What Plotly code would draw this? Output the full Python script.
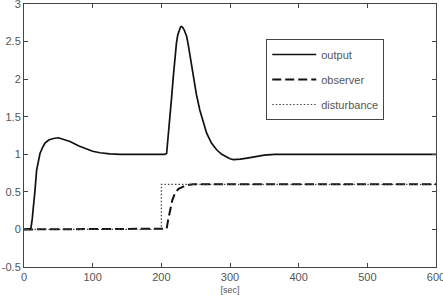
import plotly.graph_objects as go

# time axis [sec] and series values
t_out = [0, 8, 10, 12, 13.6, 16, 18.4, 21, 23.3, 27, 30.6, 36, 42.7, 50, 58, 67, 80, 91, 100, 110.6, 125, 140, 170, 205,
         207.7, 210, 212.5, 215, 217.4, 220, 222, 224, 226, 228, 229.5, 231, 233, 235, 236.8, 239, 241, 244, 246.5, 251,
         256, 261, 266, 273, 280.5, 288, 295, 300, 305, 310, 315, 325, 338.7, 350, 365, 380, 400, 450, 500, 550, 600]
y_out = [0, 0, 0.01, 0.14, 0.26, 0.52, 0.79, 0.93, 1.01, 1.09, 1.15, 1.19, 1.21, 1.22, 1.2, 1.17, 1.11, 1.07, 1.04,
         1.02, 1.005, 1.0, 1.0, 1.0,
         1.01, 1.22, 1.46, 1.76, 2.03, 2.3, 2.48, 2.59, 2.66, 2.695, 2.70, 2.69, 2.66, 2.62, 2.57, 2.47, 2.35, 2.19,
         2.03, 1.8, 1.59, 1.42, 1.28, 1.15, 1.06, 1.0, 0.96, 0.94, 0.93, 0.93, 0.935, 0.95, 0.975, 0.99, 1.0, 1.0,
         1.0, 1.0, 1.0, 1.0, 1.0]

t_obs = [0, 100, 206, 207.7, 210, 212.5, 216, 219.8, 225, 232, 239, 246.5, 255, 300, 400, 500, 600]
y_obs = [0, 0, 0, 0.01, 0.13, 0.26, 0.39, 0.48, 0.54, 0.57, 0.59, 0.6, 0.6, 0.6, 0.6, 0.6, 0.6]

t_dist = [0, 200, 200, 600]
y_dist = [0, 0, 0.6, 0.6]

x_ticks = [0, 100, 200, 300, 400, 500, 600]
y_ticks = [-0.5, 0, 0.5, 1, 1.5, 2, 2.5, 3]
y_tick_labels = ["-0.5", "0", "0.5", "1", "1.5", "2", "2.5", "3"]

fig = go.Figure()
fig.add_trace(go.Scatter(x=t_out, y=y_out, mode="lines", name="output", legendgroup="a",
                         line=dict(color="#111111", width=1.7)))
fig.add_trace(go.Scatter(x=t_obs, y=y_obs, mode="lines", name="observer", legendgroup="b",
                         line=dict(color="#111111", width=2, dash="9px,4px")))
fig.add_trace(go.Scatter(x=t_dist, y=y_dist, mode="lines", name="disturbance", legendgroup="c",
                         line=dict(color="#444444", width=1.2, dash="1.5px,2px")))

axis_common = dict(showline=True, linecolor="#444444", linewidth=1, mirror="ticks",
                   ticks="inside", ticklen=4, tickcolor="#444444", showgrid=False, zeroline=False,
                   ticklabeloverflow="allow", automargin=False,
                   tickfont=dict(family="Liberation Sans, Arial", size=11, color="#555555"))

fig.update_layout(
    width=443, height=295,
    margin=dict(l=24, r=7, t=4, b=28),
    paper_bgcolor="white", plot_bgcolor="white",
    xaxis=dict(range=[0, 600], tickvals=x_ticks, ticktext=[str(v) for v in x_ticks],
               title=dict(text="[sec]", standoff=5,
                          font=dict(family="Liberation Sans, Arial", size=9, color="#555555")),
               **axis_common),
    yaxis=dict(range=[-0.5, 3], tickvals=y_ticks, ticktext=y_tick_labels, **axis_common),
    showlegend=True,
    legend=dict(x=0.588, y=0.867, xanchor="left", yanchor="top",
                bgcolor="white", bordercolor="#444444", borderwidth=1,
                font=dict(family="Liberation Sans, Arial", size=11, color="#555555"),
                tracegroupgap=6, traceorder="grouped", itemwidth=44),
)

fig.write_html("out.html")
